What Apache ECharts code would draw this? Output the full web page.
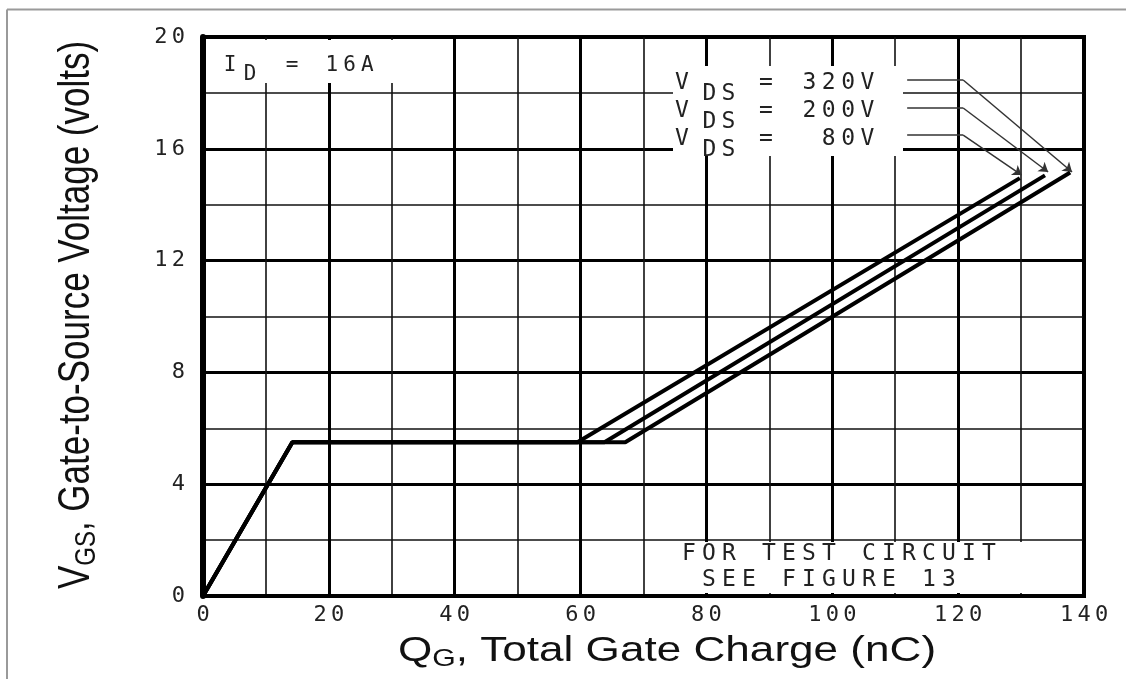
<!DOCTYPE html>
<html><head><meta charset="utf-8">
<script src="https://cdn.jsdelivr.net/npm/echarts@6/dist/echarts.min.js"></script>
<style>html,body{margin:0;padding:0;background:#fff}#c{width:1126px;height:679px}</style>
</head><body><div id="c"></div>
<script>
// ---- data ----
const qg80 = [0, 14.2, 59.5, 129.8];
const vgs80 = [0, 5.5, 5.5, 14.95];
const qg200 = [0, 14.2, 63.8, 133.8];
const vgs200 = [0, 5.5, 5.5, 15.05];
const qg320 = [0, 14.2, 67.1, 137.8];
const vgs320 = [0, 5.5, 5.5, 15.15];
const labelValues = ['320V', '200V', '80V'];
// leader lines from labels to curve ends (data units)
const leaderY = [18.46, 17.46, 16.49];
const leaderX = [111.9, 120.8];
const leaderTipQ = [138.1, 134.3, 130.1];
const leaderTipV = [15.17, 15.17, 15.06];

const MONO = 'DejaVu Sans Mono';
function mono(str, tok) { return str.split('').map(c => '{' + tok + '|' + c + '}').join(''); }
function monoText(str, x, y, size, cell, align) {
  return { type: 'text', x: x, y: y, z: 10, style: {
    text: mono(str, 'c'), align: align, verticalAlign: 'middle',
    rich: { c: { width: cell, align: 'center', fontFamily: MONO, fontSize: size, fill: '#222' } } } };
}
const toPts = (q, v) => q.map((x, i) => [x, v[i]]);

const graphics = [
  { type: 'line', z: 10, shape: { x1: 7, y1: 9.5, x2: 1126, y2: 9.5 }, style: { stroke: '#9a9a9a', lineWidth: 2 } },
  { type: 'line', z: 10, shape: { x1: 7, y1: 9.5, x2: 7, y2: 679 }, style: { stroke: '#9a9a9a', lineWidth: 2 } },
  { type: 'rect', z: 5, shape: { x: 207, y: 40, width: 240, height: 43 }, style: { fill: '#fff' } },
  { type: 'rect', z: 5, shape: { x: 673, y: 66, width: 230, height: 90 }, style: { fill: '#fff' } },
  { type: 'rect', z: 5, shape: { x: 646, y: 542, width: 434, height: 51 }, style: { fill: '#fff' } },
  monoText('I', 230, 66, 21, 18, 'center'),
  monoText('D', 250, 75, 21, 18, 'center'),
  monoText('=', 292, 66, 21, 18, 'center'),
  monoText('16A', 323, 66, 21, 17.7, 'left'),
  monoText('FOR TEST CIRCUIT', 679, 554, 23, 20, 'left'),
  monoText('SEE FIGURE 13', 699, 580.5, 23, 20, 'left'),
  { type: 'text', x: 667, y: 651, scaleX: 1.26, z: 10, style: {
    text: '{m|Q}{s|G}{m|, Total Gate Charge (nC)}', align: 'center', verticalAlign: 'middle',
    rich: { m: { fontFamily: 'Liberation Sans', fontSize: 35, fill: '#111' },
            s: { fontFamily: 'Liberation Sans', fontSize: 24, fill: '#111', padding: [16, 0, 0, 0] } } } },
  { type: 'text', x: 77, y: 315, rotation: Math.PI / 2, scaleY: 1.26, z: 10, style: {
    text: '{m|V}{s|GS}{m|, Gate-to-Source Voltage (volts)}', align: 'center', verticalAlign: 'middle',
    rich: { m: { fontFamily: 'Liberation Sans', fontSize: 35, fill: '#111' },
            s: { fontFamily: 'Liberation Sans', fontSize: 24, fill: '#111', padding: [16, 0, 0, 0] } } } }
];
labelValues.forEach((val, i) => {
  const yMain = 83.5 + 28 * i;
  graphics.push(monoText('V', 682, yMain, 23, 19, 'center'));
  graphics.push(monoText('DS', 700, yMain + 10.5, 23, 19, 'left'));
  graphics.push(monoText('=', 766, yMain, 23, 19, 'center'));
  graphics.push(monoText(val, 877, yMain, 23, 19.3, 'right'));
});

const tickRich = { d: { width: 17.5, align: 'center', fontFamily: MONO, fontSize: 22, color: '#222' } };
const curveStyle = { color: '#000', width: 4 };

const option = {
  animation: false,
  backgroundColor: '#fff',
  grid: { left: 203, right: 42, top: 37, bottom: 83, show: true, borderColor: '#000', borderWidth: 4 },
  xAxis: {
    type: 'value', min: 0, max: 140, interval: 20,
    axisLine: { show: true, onZero: false, lineStyle: { color: '#000', width: 4 } },
    axisTick: { show: false },
    axisLabel: { margin: 8, formatter: v => mono(String(v), 'd'), rich: tickRich },
    splitLine: { show: true, lineStyle: { color: '#000', width: 3 } },
    minorTick: { show: false, splitNumber: 2 },
    minorSplitLine: { show: true, lineStyle: { color: '#111', width: 1.6 } }
  },
  yAxis: {
    type: 'value', min: 0, max: 20, interval: 4,
    axisLine: { show: true, onZero: false, lineStyle: { color: '#000', width: 6 } },
    axisTick: { show: false },
    axisLabel: { margin: 16, formatter: v => mono(String(v), 'd'), rich: tickRich },
    splitLine: { show: true, lineStyle: { color: '#000', width: 3 } },
    minorTick: { show: false, splitNumber: 2 },
    minorSplitLine: { show: true, lineStyle: { color: '#111', width: 1.6 } }
  },
  graphic: graphics,
  series: [
    { name: 'VDS = 80V', type: 'line', z: 20, symbol: 'none', data: toPts(qg80, vgs80), lineStyle: curveStyle },
    { name: 'VDS = 200V', type: 'line', z: 20, symbol: 'none', data: toPts(qg200, vgs200), lineStyle: curveStyle },
    { name: 'VDS = 320V', type: 'line', z: 20, symbol: 'none', data: toPts(qg320, vgs320), lineStyle: curveStyle },
    { type: 'lines', coordinateSystem: 'cartesian2d', z: 20, symbol: 'none',
      lineStyle: { color: '#333', width: 1.5, opacity: 1 },
      data: leaderY.map(y => ({ coords: [[leaderX[0], y], [leaderX[1], y]] })) },
    { type: 'lines', coordinateSystem: 'cartesian2d', z: 20, symbol: ['none', 'arrow'], symbolSize: 9,
      lineStyle: { color: '#333', width: 1.5, opacity: 1 },
      data: leaderY.map((y, i) => ({ coords: [[leaderX[1], y], [leaderTipQ[i], leaderTipV[i]]] })) }
  ]
};
echarts.init(document.getElementById('c')).setOption(option);
</script></body></html>
